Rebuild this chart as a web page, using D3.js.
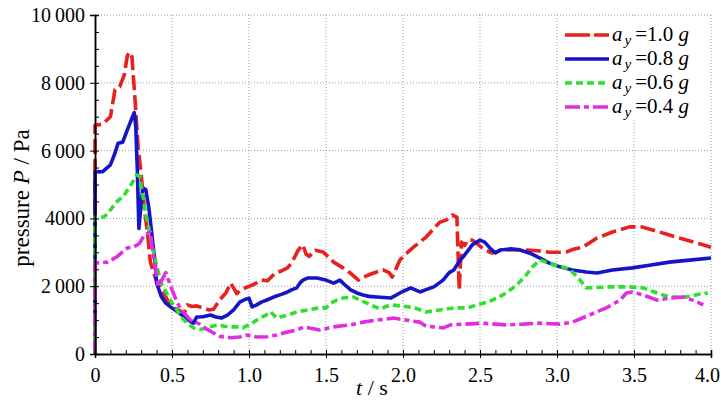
<!DOCTYPE html>
<html>
<head>
<meta charset="utf-8">
<script src="https://cdn.jsdelivr.net/npm/d3@7"></script>
<style>
  body { margin: 0; background: #fff; }
  svg text { font-family: "Liberation Serif", "Times New Roman", Times, serif !important; fill: #000; }
</style>
</head>
<body>
<div id="chart"></div>
<script>
// tick values and labels
var xTicks = [0, 0.5, 1.0, 1.5, 2.0, 2.5, 3.0, 3.5, 4.0];
var xTickLabels = ["0", "0.5", "1.0", "1.5", "2.0", "2.5", "3.0", "3.5", "4.0"];
var yTicks = [0, 2000, 4000, 6000, 8000, 10000];
var yTickLabels = ["0", "2\u2009000", "4000", "6\u2009000", "8\u2009000", "10\u2009000"];

// series names (a_y in g)
var seriesNames = ["1.0", "0.8", "0.6", "0.4"];

// [t (s), P (Pa)]
var ay10 = [[0,0],[0,6750],[0.05,6780],[0.1,7000],[0.13,7800],[0.16,7880],[0.19,8230],[0.21,8800],[0.225,8900],[0.24,8760],[0.26,7500],[0.28,6100],[0.30,5300],[0.32,4300],[0.34,3600],[0.36,2700],[0.38,2400],[0.40,2150],[0.43,1900],[0.47,1600],[0.52,1350],[0.56,1250],[0.58,1200],[0.60,1450],[0.63,1400],[0.66,1420],[0.70,1360],[0.74,1300],[0.77,1320],[0.81,1600],[0.85,1800],[0.88,2090],[0.90,1950],[0.92,1780],[0.95,1900],[0.99,1980],[1.03,2050],[1.08,2180],[1.12,2160],[1.14,2250],[1.17,2390],[1.21,2450],[1.25,2540],[1.28,2710],[1.32,3070],[1.35,3220],[1.37,2950],[1.39,2880],[1.43,3060],[1.48,3010],[1.52,2850],[1.55,2710],[1.61,2540],[1.66,2380],[1.71,2180],[1.76,2300],[1.81,2390],[1.87,2480],[1.91,2400],[1.93,2270],[1.98,2770],[2.03,3000],[2.07,3160],[2.15,3450],[2.20,3700],[2.24,3890],[2.28,3950],[2.32,4100],[2.35,4040],[2.355,3300],[2.365,1890],[2.37,2400],[2.38,3300],[2.40,3200],[2.42,3360],[2.45,3360],[2.49,3220],[2.53,3070],[2.58,2980],[2.63,3050],[2.67,3070],[2.75,3080],[2.83,3060],[2.89,3040],[2.95,3000],[3.02,3000],[3.06,3010],[3.10,3080],[3.17,3160],[3.26,3420],[3.36,3600],[3.47,3750],[3.55,3750],[3.62,3660],[3.73,3510],[3.84,3360],[3.92,3260],[4.0,3150]];
var ay08 = [[0,0],[0,5370],[0.05,5380],[0.1,5580],[0.13,5930],[0.15,6220],[0.18,6250],[0.21,6610],[0.24,6960],[0.255,7120],[0.265,6700],[0.275,5400],[0.285,3700],[0.295,4200],[0.31,4900],[0.33,4850],[0.35,4300],[0.37,3500],[0.39,2700],[0.40,2100],[0.43,1700],[0.46,1500],[0.49,1390],[0.55,1200],[0.62,960],[0.64,910],[0.66,1090],[0.70,1100],[0.75,1150],[0.78,1100],[0.82,1060],[0.86,1150],[0.90,1300],[0.94,1530],[0.97,1600],[1.0,1650],[1.02,1390],[1.05,1450],[1.08,1530],[1.12,1600],[1.16,1680],[1.21,1760],[1.25,1830],[1.28,1900],[1.31,1950],[1.33,2090],[1.35,2180],[1.38,2240],[1.44,2240],[1.50,2180],[1.55,2090],[1.59,2180],[1.62,2050],[1.66,1890],[1.70,1800],[1.74,1740],[1.78,1700],[1.83,1680],[1.92,1650],[1.98,1800],[2.05,1950],[2.11,1830],[2.15,1900],[2.20,1980],[2.26,2180],[2.30,2400],[2.33,2480],[2.37,2770],[2.39,2860],[2.45,3220],[2.50,3360],[2.53,3300],[2.57,3100],[2.60,2980],[2.63,3070],[2.70,3100],[2.76,3070],[2.82,2980],[2.89,2830],[2.95,2680],[3.02,2570],[3.10,2480],[3.19,2420],[3.26,2390],[3.36,2480],[3.49,2540],[3.60,2620],[3.73,2710],[3.86,2770],[4.0,2830]];
var ay06 = [[0,0],[0,4040],[0.06,4040],[0.10,4250],[0.14,4480],[0.19,4690],[0.24,5040],[0.27,5280],[0.29,5250],[0.31,4700],[0.33,4100],[0.35,3700],[0.37,3200],[0.40,2600],[0.43,2100],[0.47,1750],[0.50,1500],[0.52,1390],[0.56,1090],[0.60,900],[0.64,770],[0.68,720],[0.72,760],[0.76,820],[0.80,860],[0.84,820],[0.88,800],[0.92,800],[0.96,770],[1.02,910],[1.07,1060],[1.11,1150],[1.14,1240],[1.18,1060],[1.25,1150],[1.31,1240],[1.38,1300],[1.45,1360],[1.50,1360],[1.53,1500],[1.57,1590],[1.61,1650],[1.68,1680],[1.74,1550],[1.79,1450],[1.85,1330],[1.92,1450],[1.98,1420],[2.07,1370],[2.15,1240],[2.24,1300],[2.33,1360],[2.42,1360],[2.48,1450],[2.55,1530],[2.61,1650],[2.67,1800],[2.74,2040],[2.80,2330],[2.84,2570],[2.89,2770],[2.93,2710],[2.99,2620],[3.06,2540],[3.10,2420],[3.15,2180],[3.19,1950],[3.26,1960],[3.34,1980],[3.47,1980],[3.56,1950],[3.65,1800],[3.73,1680],[3.84,1680],[3.92,1760],[3.98,1800]];
var ay04 = [[0,0],[0,2680],[0.08,2710],[0.14,2860],[0.21,3130],[0.25,3150],[0.29,3270],[0.32,3510],[0.36,3600],[0.37,3200],[0.39,2600],[0.41,2000],[0.43,2150],[0.46,2400],[0.50,1900],[0.53,1550],[0.56,1300],[0.62,1000],[0.68,880],[0.72,750],[0.77,620],[0.81,520],[0.88,480],[0.94,500],[0.98,560],[1.05,500],[1.12,510],[1.18,560],[1.25,650],[1.31,710],[1.36,800],[1.40,760],[1.46,710],[1.55,800],[1.66,860],[1.74,940],[1.83,1000],[1.94,1060],[2.02,1000],[2.11,940],[2.15,820],[2.20,800],[2.26,770],[2.31,860],[2.40,880],[2.52,910],[2.60,880],[2.67,860],[2.78,880],[2.87,910],[3.02,880],[3.10,940],[3.21,1150],[3.32,1360],[3.41,1590],[3.45,1800],[3.49,1830],[3.56,1740],[3.65,1590],[3.73,1650],[3.82,1680],[3.88,1590],[3.95,1450]];

var seriesData = [ay10, ay08, ay06, ay04];
var colors = ["#e8211f", "#1414c8", "#2ee02e", "#e02ee0"];
var dashes = ["15,5", null, "7,4", "14,4,5,4"];
var legendDashes = ["25,4,16", null, "7,4", "15,4,5,4,15"];

var serif = "'Liberation Serif', 'Times New Roman', Times, serif";

var W = 721, H = 400;
var margin = {top: 15, right: 10, bottom: 46, left: 95};
var width = W - margin.left - margin.right,
    height = H - margin.top - margin.bottom;

var svg = d3.select("#chart").append("svg")
    .attr("width", W).attr("height", H)
    .attr("font-family", serif);

var g = svg.append("g")
    .attr("transform", "translate(" + margin.left + "," + margin.top + ")");

var x = d3.scaleLinear().domain([0, 4]).range([0, width]);
var y = d3.scaleLinear().domain([0, 10000]).range([height, 0]);

// grid
g.append("g").selectAll("line").data(xTicks.slice(1)).enter().append("line")
    .attr("x1", function (d) { return x(d); }).attr("x2", function (d) { return x(d); })
    .attr("y1", 0).attr("y2", height)
    .attr("stroke", "#9a9a9a").attr("stroke-width", 1).attr("stroke-dasharray", "1,2");
g.append("g").selectAll("line").data(yTicks.slice(1)).enter().append("line")
    .attr("x1", 0).attr("x2", width)
    .attr("y1", function (d) { return y(d); }).attr("y2", function (d) { return y(d); })
    .attr("stroke", "#9a9a9a").attr("stroke-width", 1).attr("stroke-dasharray", "1,2");

// curves
var line = d3.line()
    .x(function (d) { return x(d[0]); })
    .y(function (d) { return y(d[1]); });

g.selectAll("path.series").data(seriesData).enter().append("path")
    .attr("class", "series")
    .attr("d", line)
    .attr("fill", "none")
    .attr("stroke", function (d, i) { return colors[i]; })
    .attr("stroke-width", 3.6)
    .attr("stroke-linejoin", "round")
    .attr("stroke-dasharray", function (d, i) { return dashes[i]; });

// axes (minor ticks inside, major ticks outside)
var xMinor = d3.range(0, 41).map(function (i) { return i / 10; });
var yMinor = d3.range(0, 21).map(function (i) { return i * 500; });

var xAxis = g.append("g").attr("transform", "translate(0," + height + ")");
xAxis.call(d3.axisBottom(x).tickValues(xMinor).tickSize(-4).tickFormat(""));
xAxis.append("g").call(d3.axisBottom(x).tickValues(xTicks).tickSize(4)
        .tickFormat(function (d, i) { return xTickLabels[i]; }));
xAxis.attr("font-family", serif);
xAxis.selectAll("g").attr("font-family", serif);
xAxis.selectAll(".domain").attr("stroke", "#000").attr("stroke-width", 1.5);
xAxis.selectAll("text").attr("font-size", 20).attr("dy", "1.05em")
    .attr("dx", function (d) { return d === 4 ? -4 : 0; });

var yAxis = g.append("g");
yAxis.call(d3.axisLeft(y).tickValues(yMinor).tickSize(-4).tickFormat(""));
yAxis.append("g").call(d3.axisLeft(y).tickValues(yTicks).tickSize(5)
        .tickFormat(function (d, i) { return yTickLabels[i]; }));
yAxis.attr("font-family", serif);
yAxis.selectAll("g").attr("font-family", serif);
yAxis.selectAll(".domain").attr("stroke", "#000").attr("stroke-width", 1.5);
yAxis.selectAll("text").attr("font-size", 20).attr("x", -10);

// axis titles
var xt = svg.append("text").attr("x", 372).attr("y", 395)
    .attr("text-anchor", "middle").attr("font-size", 22);
xt.append("tspan").attr("font-style", "italic").text("t");
xt.append("tspan").text(" / s");

var yt = svg.append("text")
    .attr("transform", "translate(29,198) rotate(-90)")
    .attr("text-anchor", "middle").attr("font-size", 23);
yt.append("tspan").text("pressure ");
yt.append("tspan").attr("font-style", "italic").text("P");
yt.append("tspan").text(" / Pa");

// legend
var lg = svg.append("g");
lg.append("rect").attr("x", 559).attr("y", 17).attr("width", 151).attr("height", 102)
    .attr("fill", "#fff");
seriesNames.forEach(function (name, i) {
    var ly = 35 + i * 24;
    lg.append("line")
        .attr("x1", 565).attr("x2", 609).attr("y1", ly).attr("y2", ly)
        .attr("stroke", colors[i]).attr("stroke-width", 3.6)
        .attr("stroke-dasharray", legendDashes[i]);
    var t = lg.append("text").attr("x", 612).attr("y", ly + 6).attr("font-size", 21);
    t.append("tspan").attr("font-style", "italic").text("a");
    t.append("tspan").attr("font-style", "italic").attr("font-size", 15).attr("dy", 4).attr("dx", 2).text("y");
    t.append("tspan").attr("dy", -4).attr("dx", 4).text("=" + name + " ");
    t.append("tspan").attr("font-style", "italic").text("g");
});
</script>
</body>
</html>
